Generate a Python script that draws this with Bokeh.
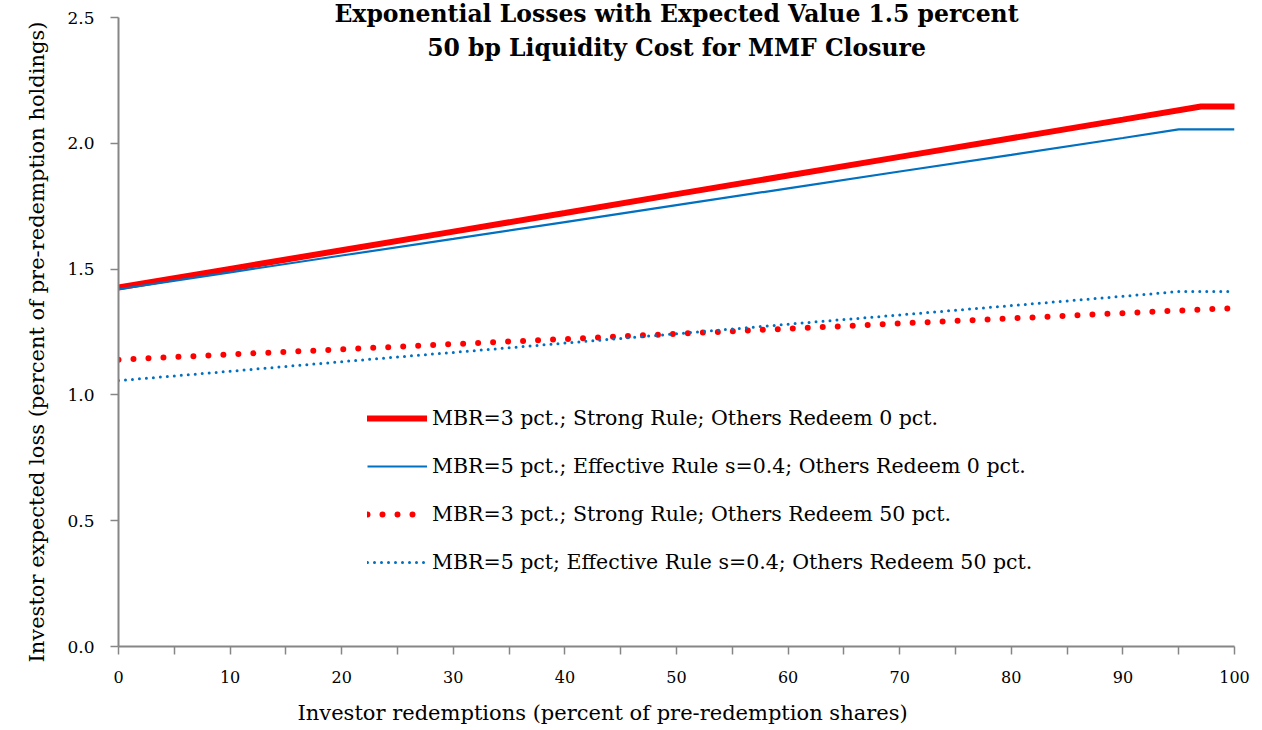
from bokeh.plotting import figure
from bokeh.models import Range1d, FixedTicker, Legend, LegendItem, Label, Title
from bokeh.embed import file_html
from bokeh.resources import INLINE

# ---- data ----
red_solid_x = [0, 10, 20, 30, 40, 50, 60, 70, 80, 90, 97, 100]
red_solid_y = [1.427, 1.501, 1.575, 1.649, 1.723, 1.798, 1.872, 1.946, 2.020, 2.094, 2.146, 2.146]

blue_solid_x = [0, 10, 20, 30, 40, 50, 60, 70, 80, 90, 95, 100]
blue_solid_y = [1.420, 1.487, 1.554, 1.620, 1.687, 1.754, 1.821, 1.888, 1.954, 2.021, 2.055, 2.055]

red_dot_x = [0, 10, 20, 30, 40, 50, 60, 70, 80, 90, 100]
red_dot_y = [1.140, 1.161, 1.181, 1.202, 1.222, 1.243, 1.263, 1.284, 1.304, 1.325, 1.345]

blue_dot_x = [0, 10, 20, 30, 40, 50, 60, 70, 80, 90, 95, 100]
blue_dot_y = [1.057, 1.094, 1.132, 1.169, 1.206, 1.243, 1.281, 1.318, 1.355, 1.392, 1.411, 1.411]

series_labels = [
    "MBR=3 pct.; Strong Rule; Others Redeem 0 pct.",
    "MBR=5 pct.; Effective Rule s=0.4; Others Redeem 0 pct.",
    "MBR=3 pct.; Strong Rule; Others Redeem 50 pct.",
    "MBR=5 pct; Effective Rule s=0.4; Others Redeem 50 pct.",
]
title_lines = ["Exponential Losses with Expected Value 1.5 percent",
               "50 bp Liquidity Cost for MMF Closure"]
x_label = "Investor redemptions (percent of pre-redemption shares)"
y_label = "Investor expected loss (percent of pre-redemption holdings)"
x_major = [0, 10, 20, 30, 40, 50, 60, 70, 80, 90, 100]
x_minor = [5, 15, 25, 35, 45, 55, 65, 75, 85, 95]
y_major = [0.0, 0.5, 1.0, 1.5, 2.0, 2.5]
y_axis_max = 2.5
y_view_max = 2.5 + 17 / 251.6   # a little headroom above the top tick for the title

FONT = "DejaVu Serif"
RED = "#FF0000"
BLUE = "#0070C0"
AXIS = "#868686"

p = figure(frame_width=1116, frame_height=646,
           min_border_left=118, min_border_right=20,
           min_border_top=0, min_border_bottom=84,
           x_range=Range1d(0, 100), y_range=Range1d(0, y_view_max),
           output_backend="svg", toolbar_location=None)
p.outline_line_color = None
p.grid.grid_line_color = None
p.background_fill_color = "white"
p.border_fill_color = "white"

r1 = p.line(red_solid_x, red_solid_y, line_color=RED, line_width=6, line_cap="round")
r2 = p.line(blue_solid_x, blue_solid_y, line_color=BLUE, line_width=2.2)
r3 = p.line(red_dot_x, red_dot_y, line_color=RED, line_width=6, line_dash="0 15", line_cap="round")
r4 = p.line(blue_dot_x, blue_dot_y, line_color=BLUE, line_width=3, line_dash="0 7", line_cap="round")

# axes
xa = p.xaxis[0]
xa.ticker = FixedTicker(ticks=x_major, minor_ticks=x_minor)
ya = p.yaxis[0]
ya.ticker = FixedTicker(ticks=y_major, minor_ticks=[])
ya.bounds = (0, y_axis_max)
ya.major_label_overrides = {v: f"{v:.1f}" for v in y_major}
for ax in (xa, ya):
    ax.axis_line_color = AXIS
    ax.axis_line_width = 2
    ax.major_tick_line_color = AXIS
    ax.major_tick_line_width = 1.5
    ax.minor_tick_line_color = AXIS
    ax.minor_tick_line_width = 1.5
    ax.major_tick_in = 0
    ax.major_tick_out = 8
    ax.minor_tick_in = 0
    ax.minor_tick_out = 8
    ax.major_label_text_font = FONT
    ax.major_label_text_color = "black"
xa.major_label_text_font_size = "16px"
ya.major_label_text_font_size = "17px"
ya.minor_tick_out = 0
xa.major_label_standoff = 16
ya.major_label_standoff = 16

# axis titles, placed like the reference
p.add_layout(Title(text=x_label, align="left", offset=179, standoff=26,
                   text_font=FONT, text_font_size="21px",
                   text_font_style="normal", text_color="black"), "below")
p.add_layout(Title(text=y_label, align="left", offset=-16, standoff=32,
                   text_font=FONT, text_font_size="21px",
                   text_font_style="normal", text_color="black"), "left")

# legend
legend = Legend(items=[LegendItem(label=series_labels[i], renderers=[r])
                       for i, r in enumerate([r1, r2, r3, r4])],
                location=(249, 72))
legend.label_text_font = FONT
legend.label_text_font_size = "20.5px"
legend.label_text_color = "black"
legend.glyph_width = 60
legend.glyph_height = 24
legend.label_height = 24
legend.label_standoff = 5
legend.spacing = 24
legend.padding = 0
legend.margin = 0
legend.border_line_color = None
legend.background_fill_alpha = 0
p.add_layout(legend)

# title drawn inside the plot area
for txt, yv in zip(title_lines, [2.512, 2.380]):
    p.add_layout(Label(x=50, y=yv, text=txt, text_align="center",
                       text_baseline="middle", text_font=FONT,
                       text_font_size="23.5px", text_font_style="bold",
                       text_color="black"))

open("out.html", "w").write(file_html(p, INLINE))
